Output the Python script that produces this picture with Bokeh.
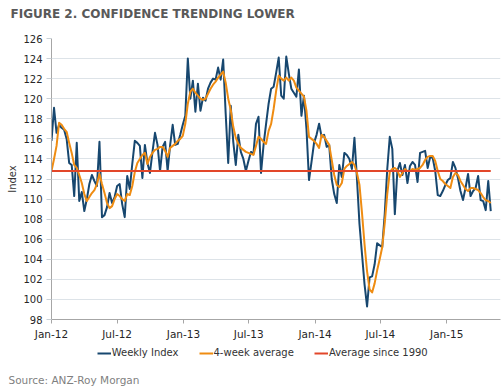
import pandas as pd
from bokeh.plotting import figure
from bokeh.layouts import column
from bokeh.models import Range1d, FixedTicker, DatetimeTickFormatter, Legend, LegendItem
from bokeh.embed import file_html
from bokeh.resources import INLINE

# ---------------- data ----------------
start_date = "2012-01-01"
x_end_date = "2015-05-30"

weekly_index = [
    115.8, 119.1, 116.6, 117.4, 117.1, 116.9, 116.0, 113.6, 113.4, 110.3,
    115.6, 109.8, 110.7, 108.8, 110.0, 111.5, 112.4, 111.8, 111.3, 115.7,
    108.2, 108.4, 109.2, 110.6, 109.6, 110.2, 111.3, 111.5, 109.5, 108.2,
    112.3, 111.0, 113.5, 115.8, 115.6, 115.3, 112.1, 115.4, 113.6, 112.6,
    114.7, 116.6, 115.4, 112.8, 115.2, 115.7, 112.8, 115.4, 117.4, 115.4,
    115.5, 116.4, 117.4, 118.3, 124.0, 120.0, 121.8, 118.7, 121.5, 118.8,
    120.1, 119.8, 121.0, 121.6, 122.0, 121.9, 123.1, 121.9, 123.9, 118.5,
    113.6, 119.3, 115.7, 113.4, 116.4, 114.7, 114.0, 112.8, 113.8, 114.7,
    114.5, 117.5, 118.2, 112.6, 115.4, 117.5, 119.5, 121.0, 121.2, 122.6,
    124.1, 120.3, 120.0, 124.2, 122.5, 121.0, 120.6, 120.2, 122.9, 118.3,
    120.3, 117.0, 111.9, 113.7, 115.6, 116.4, 117.5, 116.2, 116.4, 115.2,
    115.4, 112.0, 110.5, 109.6, 113.4, 112.2, 114.6, 114.4, 114.0, 113.0,
    116.1, 112.0, 107.5, 104.5, 101.5, 99.3, 102.2, 102.3, 103.5, 105.6,
    105.4, 105.2, 108.5, 113.0, 116.2, 115.0, 108.5, 112.8, 113.6, 112.4,
    113.4, 111.6, 113.3, 113.7, 113.4, 111.7, 114.6, 114.7, 114.8, 113.1,
    114.2, 114.1, 112.8, 110.4, 110.3, 110.8, 111.4, 111.9, 112.1, 113.7,
    113.1, 112.1, 110.8, 109.9, 111.1, 112.5, 110.3, 110.8, 111.1, 112.3,
    109.9, 109.8, 108.9, 111.8, 108.8,
]

four_week_average = [
    112.8, 114.0, 115.3, 117.6, 117.4, 117.0, 116.7, 115.6, 114.6, 113.4,
    113.1, 112.4, 111.6, 110.5, 109.8, 110.2, 110.6, 110.9, 111.5, 112.5,
    111.5, 110.6, 109.6, 109.1, 109.3, 110.0, 110.5, 110.3, 110.0, 109.8,
    110.5, 110.4, 111.3, 112.7, 113.6, 114.0, 114.4, 114.6, 113.5, 114.2,
    114.6, 114.9, 115.0, 115.2, 115.2, 114.8, 114.2, 115.1, 115.3, 115.5,
    115.8, 116.0, 116.3, 117.5, 119.5, 120.7, 121.0, 120.6, 120.3, 120.0,
    119.9, 120.0, 120.5, 121.0, 121.4, 121.7, 122.1, 122.4, 122.7, 121.6,
    120.0, 118.9, 117.2, 116.1, 115.5, 115.1, 114.9, 114.7, 114.6, 114.5,
    114.4, 115.3, 116.2, 116.0, 115.7, 115.5, 116.8, 117.5, 119.0, 120.8,
    122.3, 122.0, 121.8, 122.1, 121.8, 122.1, 121.8, 121.1, 120.8, 120.5,
    120.2, 118.8, 116.2, 116.0, 115.8, 115.5, 115.1, 116.4, 116.2, 115.8,
    115.4, 113.9, 112.4, 111.4, 111.2, 111.6, 113.0, 113.3, 113.5, 113.7,
    113.4, 112.6, 111.4, 108.6, 105.5, 102.8, 101.0, 100.7, 101.6, 102.9,
    104.0, 105.2, 107.6, 110.5, 112.7, 113.0, 113.1, 112.9, 112.2, 112.6,
    113.0, 112.8, 112.8, 113.0, 112.9, 113.0, 113.1, 113.4, 113.9, 114.2,
    114.3, 114.3, 113.8, 112.8, 112.0, 111.8, 111.5, 111.3, 111.1, 112.2,
    112.6, 112.4, 111.8, 111.4, 111.0, 110.8, 111.1, 111.1, 111.0, 110.9,
    110.6, 110.2, 109.9, 109.8, 109.6,
]

average_since_1990 = 112.8

y_ticks = [98, 100, 102, 104, 106, 108, 110, 112, 114, 116, 118, 120, 122, 124, 126]
x_tick_dates = ["2012-01-01", "2012-07-01", "2013-01-01", "2013-07-01",
                "2014-01-01", "2014-07-01", "2015-01-01"]
x_tick_labels = ["Jan-12", "Jul-12", "Jan-13", "Jul-13", "Jan-14", "Jul-14", "Jan-15"]

title_text = "FIGURE 2. CONFIDENCE TRENDING LOWER"
source_text = "Source: ANZ-Roy Morgan"
series_names = ["Weekly Index", "4-week average", "Average since 1990"]

# ---------------- styles ----------------
FONT = "DejaVu Sans"
BLUE, ORANGE, RED = "#17476f", "#ef8c12", "#e2472a"
W = 502
LEFT, RIGHT = 51, 2

dates = pd.date_range(start_date, periods=len(weekly_index), freq="7D")
avg_dates = [dates[0], dates[-1]]
avg_vals = [average_since_1990, average_since_1990]
tick_ms = [int(pd.Timestamp(d).value // 10**6) for d in x_tick_dates]

x_range = Range1d(pd.Timestamp(start_date), pd.Timestamp(x_end_date))


def strip(height, title_loc):
    f = figure(width=W, height=height, x_range=x_range, y_range=Range1d(0, 1),
               output_backend="svg", toolbar_location=None,
               x_axis_location=None, y_axis_location=None,
               min_border_left=LEFT, min_border_right=RIGHT,
               min_border_top=0, min_border_bottom=0,
               background_fill_color="white", border_fill_color="white",
               outline_line_color=None, title_location=title_loc)
    f.grid.visible = False
    return f


# ---------------- title strip ----------------
t = strip(28, "above")
t.title.text = title_text
t.title.text_font = FONT
t.title.text_font_size = "12px"
t.title.text_font_style = "bold"
t.title.text_color = "#595959"
t.title.align = "left"
t.title.vertical_align = "bottom"
t.title.offset = -41
t.title.standoff = 9
t.line(dates, weekly_index, line_alpha=0)

# ---------------- main chart ----------------
p = figure(width=W, height=314, x_axis_type="datetime",
           x_range=x_range, y_range=Range1d(98, 126), title=None,
           output_backend="svg", toolbar_location=None,
           min_border_left=LEFT, min_border_right=RIGHT, min_border_top=10, min_border_bottom=20,
           background_fill_color="white", border_fill_color="white",
           outline_line_color=None)

p.xgrid.visible = False
p.ygrid.grid_line_color = "#dde3e8"
p.ygrid.grid_line_width = 1

p.yaxis.ticker = FixedTicker(ticks=y_ticks)
p.yaxis.axis_label = "Index"
p.yaxis.axis_label_text_font = FONT
p.yaxis.axis_label_text_font_size = "10px"
p.yaxis.axis_label_text_font_style = "normal"
p.yaxis.axis_label_text_color = "#333333"
p.yaxis.axis_label_standoff = 2
p.yaxis.major_label_text_font = FONT
p.yaxis.major_label_text_font_size = "10px"
p.yaxis.major_label_text_color = "#262626"
p.yaxis.major_label_standoff = 4
p.yaxis.axis_line_color = "#a6a6a6"
p.yaxis.major_tick_line_color = "#c9d1d7"
p.yaxis.major_tick_out = 5
p.yaxis.major_tick_in = 0
p.yaxis.minor_tick_line_color = None

p.xaxis.ticker = FixedTicker(ticks=tick_ms)
p.xaxis.formatter = DatetimeTickFormatter(days="%b-%y", months="%b-%y", years="%b-%y",
                                          context=None)
p.xaxis.major_label_overrides = {t_: lab for t_, lab in zip(tick_ms, x_tick_labels)}
p.xaxis.major_label_text_font = FONT
p.xaxis.major_label_text_font_size = "10.5px"
p.xaxis.major_label_text_color = "#262626"
p.xaxis.major_label_standoff = 4
p.xaxis.axis_line_color = "#a6a6a6"
p.xaxis.major_tick_line_color = "#a6a6a6"
p.xaxis.major_tick_out = 4
p.xaxis.major_tick_in = 0
p.xaxis.minor_tick_line_color = None

p.line(dates, weekly_index, line_color=BLUE, line_width=2, line_join="round")
p.line(dates, four_week_average, line_color=ORANGE, line_width=2, line_join="round")
p.line(avg_dates, avg_vals, line_color=RED, line_width=2)

# ---------------- legend + source strip ----------------
q = strip(48, "below")
# same series, far outside this strip's y-range: only their legend swatches show
k_blue = q.line(dates, weekly_index, line_color=BLUE, line_width=2)
k_orange = q.line(dates, four_week_average, line_color=ORANGE, line_width=2)
k_red = q.line(avg_dates, avg_vals, line_color=RED, line_width=2)

q.title.text = source_text
q.title.text_font = FONT
q.title.text_font_size = "10.5px"
q.title.text_font_style = "normal"
q.title.text_color = "#7f7f7f"
q.title.align = "left"
q.title.offset = -43
q.title.standoff = 10

legend = Legend(items=[LegendItem(label=series_names[0], renderers=[k_blue]),
                       LegendItem(label=series_names[1], renderers=[k_orange]),
                       LegendItem(label=series_names[2], renderers=[k_red])],
                orientation="horizontal", location=(96.7 - LEFT, 7.5),
                glyph_width=14, glyph_height=12, label_height=12, label_standoff=1,
                spacing=20, padding=0, margin=0,
                border_line_color=None, background_fill_alpha=0,
                label_text_font=FONT, label_text_font_size="10px",
                label_text_color="#333333")
q.add_layout(legend, "center")

layout = column(t, p, q, spacing=0)
open("out.html", "w").write(file_html(layout, INLINE))
